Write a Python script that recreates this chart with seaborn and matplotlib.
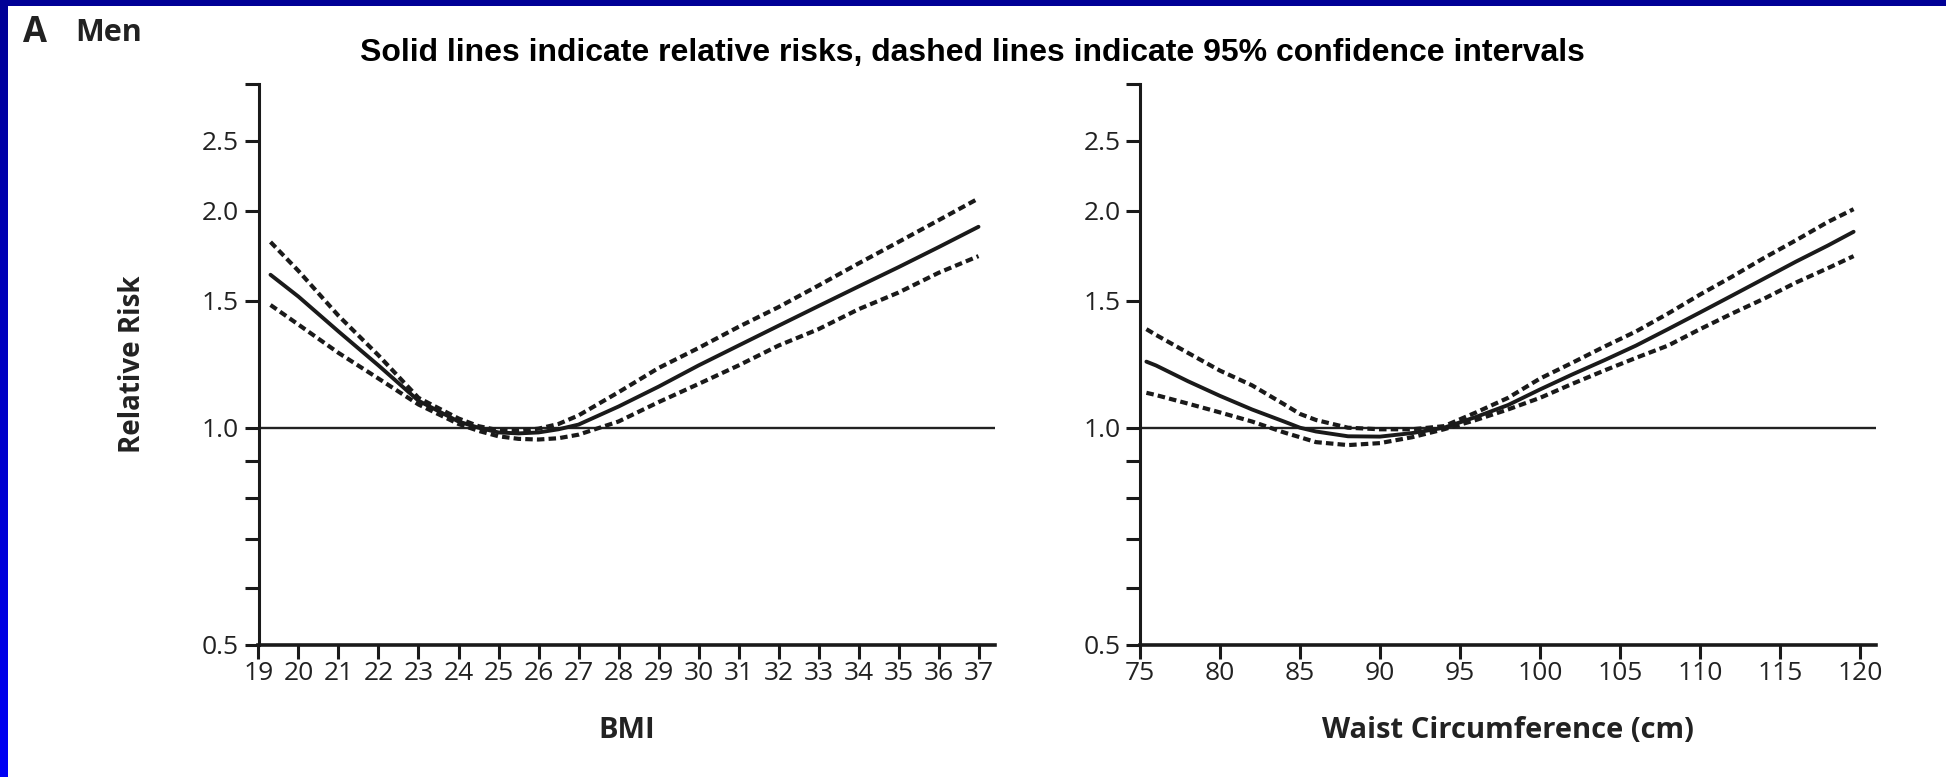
import numpy as np
import pandas as pd
import matplotlib
matplotlib.use("Agg")
import matplotlib.pyplot as plt
from matplotlib.colors import LinearSegmentedColormap
from matplotlib.patches import Rectangle
from matplotlib.ticker import FixedLocator, FixedFormatter, NullLocator
import seaborn as sns

# ---- data: relative risk with 95% confidence limits ----
bmi = [19.3, 20, 21, 22, 23, 24, 24.5, 25, 25.5, 26, 26.5, 27, 28, 29, 30,
       31, 32, 33, 34, 35, 36, 37]
bmi_rr = [1.63, 1.52, 1.36, 1.22, 1.09, 1.02, 1.0, 0.985, 0.982, 0.985, 0.995,
          1.01, 1.07, 1.14, 1.22, 1.30, 1.385, 1.475, 1.57, 1.67, 1.78, 1.90]
bmi_upper = [1.81, 1.65, 1.43, 1.26, 1.10, 1.03, 1.005, 0.992, 0.99, 0.997,
             1.012, 1.04, 1.12, 1.21, 1.29, 1.38, 1.47, 1.575, 1.69, 1.81,
             1.94, 2.08]
bmi_lower = [1.48, 1.39, 1.27, 1.17, 1.077, 1.012, 0.99, 0.973, 0.965, 0.963,
             0.967, 0.978, 1.02, 1.085, 1.15, 1.22, 1.30, 1.37, 1.46, 1.54,
             1.64, 1.73]

waist = [75.4, 76, 78, 80, 82, 84, 85, 86, 88, 90, 92, 94, 96, 98, 100, 102,
         104, 106, 108, 110, 112, 114, 116, 118, 119.6]
waist_rr = [1.235, 1.22, 1.16, 1.107, 1.06, 1.02, 1.0, 0.988, 0.973, 0.972,
            0.983, 1.0, 1.035, 1.075, 1.13, 1.185, 1.24, 1.30, 1.37, 1.445,
            1.525, 1.61, 1.70, 1.79, 1.87]
waist_upper = [1.37, 1.345, 1.27, 1.20, 1.145, 1.078, 1.045, 1.025, 1.0,
               0.995, 0.995, 1.005, 1.05, 1.10, 1.17, 1.23, 1.295, 1.36, 1.44,
               1.53, 1.62, 1.72, 1.82, 1.93, 2.01]
waist_lower = [1.118, 1.11, 1.08, 1.05, 1.02, 0.985, 0.97, 0.955, 0.946,
               0.952, 0.97, 0.995, 1.025, 1.06, 1.10, 1.15, 1.20, 1.25, 1.30,
               1.37, 1.44, 1.51, 1.59, 1.665, 1.73]

y_ticks = [0.5, 0.6, 0.7, 0.8, 0.9, 1.0, 1.5, 2.0, 2.5, 3.0]
y_labels = ["0.5", "", "", "", "", "1.0", "1.5", "2.0", "2.5", ""]
bmi_ticks = list(range(19, 38))
waist_ticks = list(range(75, 121, 5))

title = "Solid lines indicate relative risks, dashed lines indicate 95% confidence intervals"

sns.set_theme(style="ticks")
plt.rcParams["font.family"] = ["Open Sans", "DejaVu Sans"]

W, H = 1946, 777
fig = plt.figure(figsize=(W / 100, H / 100), dpi=100)
fig.patch.set_facecolor("white")

ax_w = 736 / W
ax_b = (H - 644.7) / H
ax_h = (644.7 - 83.8) / H
ax1 = fig.add_axes([258.5 / W, ax_b, ax_w, ax_h])
ax2 = fig.add_axes([1140 / W, ax_b, ax_w, ax_h])

ink = "#1a1a1a"
dash = (0, (1.8, 1.0))


def draw_panel(ax, x, rr, lo, hi, xticks, xlim, xlabel):
    df = pd.DataFrame({"x": x, "rr": rr, "lo": lo, "hi": hi})
    ax.set_yscale("log")
    ax.axhline(1.0, color="#222222", lw=1.7, zorder=1)
    sns.lineplot(data=df, x="x", y="hi", ax=ax, color=ink, lw=3.0,
                 linestyle=dash, sort=False, zorder=3)
    sns.lineplot(data=df, x="x", y="lo", ax=ax, color=ink, lw=3.0,
                 linestyle=dash, sort=False, zorder=3)
    sns.lineplot(data=df, x="x", y="rr", ax=ax, color=ink, lw=2.8,
                 sort=False, zorder=4)
    ax.set_xlim(*xlim)
    ax.set_ylim(0.5, 3.0)
    ax.yaxis.set_major_locator(FixedLocator(y_ticks))
    ax.yaxis.set_major_formatter(FixedFormatter(y_labels))
    ax.yaxis.set_minor_locator(NullLocator())
    ax.xaxis.set_major_locator(FixedLocator(xticks))
    ax.set_xticklabels([str(t) for t in xticks])
    ax.xaxis.set_minor_locator(NullLocator())
    for side in ("top", "right"):
        ax.spines[side].set_visible(False)
    ax.spines["left"].set_linewidth(2.2)
    ax.spines["bottom"].set_linewidth(2.6)
    ax.spines["left"].set_color(ink)
    ax.spines["bottom"].set_color(ink)
    ax.tick_params(axis="both", direction="out", length=10, width=2.2,
                   color=ink, labelsize=19, labelcolor="#222222")
    ax.tick_params(axis="y", pad=4)
    ax.tick_params(axis="x", pad=2)
    ax.set_xlabel(xlabel, fontsize=21, fontweight="bold", color="#222222")
    ax.xaxis.set_label_coords(0.5, -0.127)
    ax.set_ylabel("")
    ax.set_facecolor("white")
    ax.grid(False)


draw_panel(ax1, bmi, bmi_rr, bmi_lower, bmi_upper, bmi_ticks, (19, 37.4), "BMI")
draw_panel(ax2, waist, waist_rr, waist_lower, waist_upper, waist_ticks, (75, 121),
           "Waist Circumference (cm)")

ax1.set_ylabel("Relative Risk", fontsize=20, fontweight="bold",
               color="#222222")
ax1.yaxis.set_label_coords(-0.152, 0.5)

fig.text(972 / W, 1 - 52.5 / H, title, ha="center", va="center", fontsize=23,
         fontweight="bold", family=["Liberation Sans", "DejaVu Sans"],
         color="black")
fig.text(23 / W, 1 - 33 / H, "A", ha="left", va="center", fontsize=25,
         fontweight="bold", color="#222222")
fig.text(75 / W, 1 - 33 / H, "Men", ha="left", va="center", fontsize=22,
         fontweight="bold", color="#222222")

# slide frame: navy strip on top, blue gradient strip on the left
fig.add_artist(Rectangle((0, 1 - 6 / H), 1, 6 / H, transform=fig.transFigure,
                         facecolor="#000096", edgecolor="none", zorder=10))
frame_ax = fig.add_axes([0, 0, 7.5 / W, 1])
frame_cmap = LinearSegmentedColormap.from_list("frame", ["#000096", "#0000f5"])
frame_ax.imshow(np.linspace(0, 1, 256).reshape(-1, 1), aspect="auto",
                cmap=frame_cmap, extent=(0, 1, 0, 1))
frame_ax.set_axis_off()

fig.savefig("out.png", dpi=100, facecolor="white")
